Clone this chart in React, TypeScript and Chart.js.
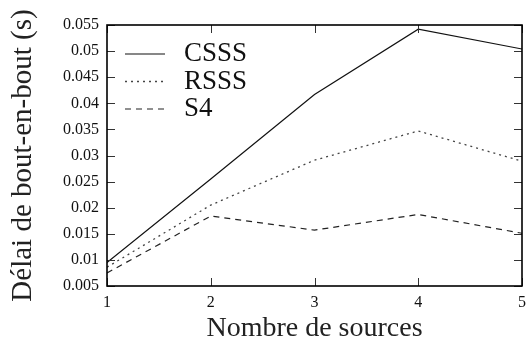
import React, { useEffect, useRef } from "react";
import { Chart, registerables } from "chart.js";

Chart.register(...registerables);

const sources = [1, 2, 3, 4, 5];
const csss = [0.0095, 0.0255, 0.0417, 0.0542, 0.0504];
const rsss = [0.0086, 0.0205, 0.0291, 0.0347, 0.0289];
const s4 = [0.0075, 0.0184, 0.0157, 0.0187, 0.0151];
const seriesLabels = ["CSSS", "RSSS", "S4"];
const xTitle = "Nombre de sources";
const yTitle = "Délai de bout-en-bout (s)";

const FONT = "'Liberation Serif', 'Times New Roman', serif";

const framePlugin = {
  id: "frameTicksLegend",
  afterDatasetsDraw(chart: any) {
    const { ctx, chartArea: a, scales } = chart;
    const xs = scales.x;
    const ys = scales.y;
    ctx.save();
    const line = (x1: number, y1: number, x2: number, y2: number) => {
      ctx.beginPath();
      ctx.moveTo(x1, y1);
      ctx.lineTo(x2, y2);
      ctx.stroke();
    };
    // inward ticks
    ctx.strokeStyle = "#333";
    ctx.lineWidth = 1;
    ctx.setLineDash([]);
    const L = 8;
    ys.ticks.forEach((t: any) => {
      const py = Math.round(ys.getPixelForValue(t.value)) + 0.5;
      line(a.left, py, a.left + L, py);
      line(a.right, py, a.right - L, py);
    });
    xs.ticks.forEach((t: any) => {
      const px = Math.round(xs.getPixelForValue(t.value)) + 0.5;
      line(px, a.bottom, px, a.bottom - L);
      line(px, a.top, px, a.top + L);
    });
    // frame
    ctx.strokeStyle = "#000";
    ctx.lineWidth = 1.6;
    ctx.strokeRect(a.left, a.top, a.right - a.left, a.bottom - a.top);
    // legend
    ctx.font = "27px " + FONT;
    ctx.textBaseline = "middle";
    ctx.textAlign = "left";
    chart.data.datasets.forEach((ds: any, i: number) => {
      const yy = a.top + 29 + i * 27.5;
      ctx.strokeStyle = ds.borderColor;
      ctx.lineWidth = ds.borderWidth;
      ctx.setLineDash(ds.borderDash || []);
      line(a.left + 18, yy, a.left + 58, yy);
      ctx.setLineDash([]);
      ctx.fillStyle = "#111";
      ctx.fillText(ds.label, a.left + 77, yy);
    });
    ctx.restore();
  },
};

export default function App() {
  const ref = useRef<HTMLCanvasElement>(null);
  useEffect(() => {
    if (!ref.current) return;
    const mk = (vals: number[]) => sources.map((x, i) => ({ x, y: vals[i] }));
    const chart = new Chart(ref.current, {
      type: "line",
      data: {
        datasets: [
          { label: seriesLabels[0], data: mk(csss), borderColor: "#111", borderWidth: 1.2, pointRadius: 0, borderDash: [] },
          { label: seriesLabels[1], data: mk(rsss), borderColor: "#444", borderWidth: 1.3, pointRadius: 0, borderDash: [2, 4] },
          { label: seriesLabels[2], data: mk(s4), borderColor: "#222", borderWidth: 1.2, pointRadius: 0, borderDash: [6, 5] },
        ],
      },
      options: {
        responsive: false,
        animation: false,
        layout: { padding: { top: 25, right: 5, left: 0, bottom: 0 } },
        plugins: { legend: { display: false }, tooltip: { enabled: false } },
        scales: {
          x: {
            type: "linear",
            min: 1,
            max: 5,
            grid: { display: false, drawTicks: false },
            border: { display: false },
            ticks: {
              stepSize: 1,
              padding: 7,
              color: "#111",
              font: { family: FONT, size: 16 },
              maxRotation: 0,
            },
            title: {
              display: true,
              text: xTitle,
              color: "#222",
              font: { family: FONT, size: 28 },
              padding: { top: 0, bottom: 2 },
            },
            afterFit: (s: any) => {
              s.height = 61;
              s.paddingLeft = 0;
              s.paddingRight = 0;
            },
          },
          y: {
            min: 0.005,
            max: 0.055,
            grid: { display: false, drawTicks: false },
            border: { display: false },
            ticks: {
              stepSize: 0.005,
              padding: 8,
              color: "#111",
              font: { family: FONT, size: 16 },
              callback: (v: any) => String(parseFloat(Number(v).toFixed(3))),
            },
            title: {
              display: true,
              text: yTitle,
              color: "#222",
              font: { family: FONT, size: 29 },
              padding: { top: 6, bottom: 0 },
            },
            afterFit: (s: any) => {
              s.width = 107;
            },
          },
        },
      },
      plugins: [framePlugin],
    });
    return () => chart.destroy();
  }, []);
  return (
    <div style={{ position: "absolute", left: 0, top: 0, width: 527, height: 347, background: "#fff" }}>
      <canvas ref={ref} width={527} height={347} style={{ display: "block" }} />
    </div>
  );
}
